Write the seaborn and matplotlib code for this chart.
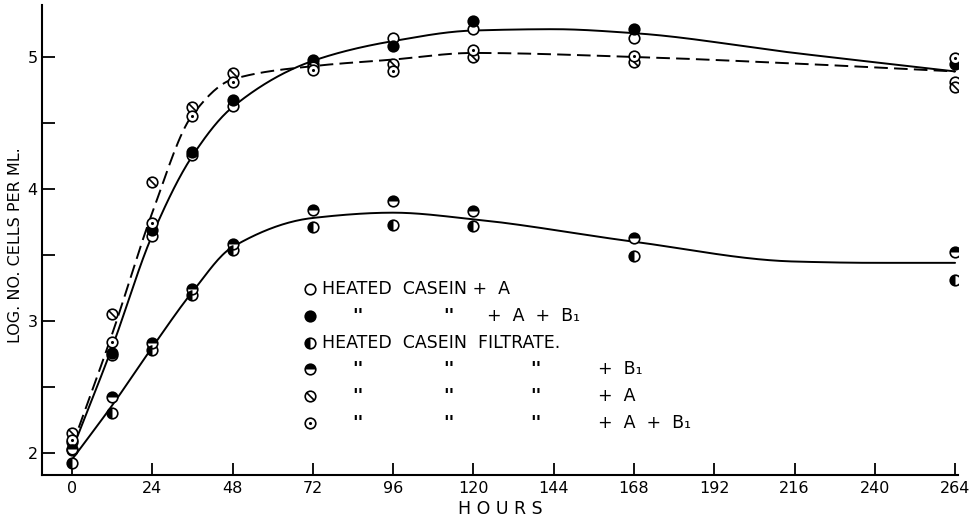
import numpy as np
import pandas as pd
import matplotlib
matplotlib.use("Agg")
import matplotlib.pyplot as plt
from matplotlib.path import Path
import seaborn as sns

# ---- measurements: log number of cells per ml against hours ----
hours = [0, 12, 24, 36, 48, 72, 96, 120, 168, 264]

casein_a = [2.08, 2.74, 3.64, 4.26, 4.63, 4.95, 5.14, 5.21, 5.14, 4.81]
casein_a_b1 = [2.02, 2.76, 3.69, 4.28, 4.67, 4.98, 5.08, 5.27, 5.21, 4.95]
filtrate = [1.92, 2.30, 2.78, 3.20, 3.54, 3.71, 3.73, 3.72, 3.49, 3.31]
filtrate_b1 = [2.03, 2.42, 2.83, 3.24, 3.58, 3.84, 3.91, 3.83, 3.63, 3.52]
filtrate_a = [2.15, 3.05, 4.05, 4.62, 4.88, 4.92, 4.95, 5.00, 4.96, 4.77]
filtrate_a_b1 = [2.10, 2.84, 3.74, 4.55, 4.81, 4.90, 4.89, 5.05, 5.01, 4.99]

# ---- fitted growth curves (knots of the hand-drawn curves) ----
casein_curve_h = [0, 12, 24, 36, 48, 72, 96, 120, 144, 168, 216, 264]
casein_curve_v = [2.02, 2.80, 3.65, 4.25, 4.62, 4.97, 5.12, 5.20, 5.21, 5.18, 5.03, 4.89]
filt_ab_curve_h = [0, 12, 24, 36, 48, 72, 96, 120, 168, 216, 264]
filt_ab_curve_v = [2.05, 2.90, 3.82, 4.56, 4.83, 4.93, 4.98, 5.03, 5.00, 4.95, 4.89]
filt_curve_h = [0, 12, 24, 36, 48, 72, 96, 120, 168, 216, 240, 264]
filt_curve_v = [1.95, 2.36, 2.80, 3.22, 3.56, 3.78, 3.82, 3.77, 3.60, 3.45, 3.44, 3.44]

x_ticks = [0, 24, 48, 72, 96, 120, 144, 168, 192, 216, 240, 264]
y_ticks = [2, 3, 4, 5]


def pchip(xk, yk, xs):
    """Monotone piecewise cubic Hermite curve through the knots."""
    xk = np.asarray(xk, float)
    yk = np.asarray(yk, float)
    h = np.diff(xk)
    d = np.diff(yk) / h
    m = np.zeros_like(yk)
    for i in range(1, len(xk) - 1):
        if d[i - 1] * d[i] > 0:
            w1 = 2 * h[i] + h[i - 1]
            w2 = h[i] + 2 * h[i - 1]
            m[i] = (w1 + w2) / (w1 / d[i - 1] + w2 / d[i])
    m[0] = d[0]
    m[-1] = d[-1]
    idx = np.clip(np.searchsorted(xk, xs) - 1, 0, len(h) - 1)
    t = (xs - xk[idx]) / h[idx]
    h00 = 2 * t**3 - 3 * t**2 + 1
    h10 = t**3 - 2 * t**2 + t
    h01 = -2 * t**3 + 3 * t**2
    h11 = t**3 - t**2
    return (h00 * yk[idx] + h10 * h[idx] * m[idx]
            + h01 * yk[idx + 1] + h11 * h[idx] * m[idx + 1])


sns.set_theme(style="ticks")
plt.rcParams["font.family"] = ["DejaVu Sans"]
plt.rcParams["text.color"] = "black"
plt.rcParams["axes.labelcolor"] = "black"
plt.rcParams["xtick.color"] = "black"
plt.rcParams["ytick.color"] = "black"

fig = plt.figure(figsize=(9.74, 5.16), dpi=100)
ax = fig.add_axes([0.043, 0.0795, 0.941, 0.911])

# curves
for kh, kv, style in [(casein_curve_h, casein_curve_v, "solid"),
                      (filt_ab_curve_h, filt_ab_curve_v, "dashed"),
                      (filt_curve_h, filt_curve_v, "solid")]:
    xs = np.linspace(kh[0], kh[-1], 400)
    df = pd.DataFrame({"h": xs, "v": pchip(kh, kv, xs)})
    kw = dict(dashes=(7, 3.2)) if style == "dashed" else {}
    sns.lineplot(data=df, x="h", y="v", ax=ax, color="black", lw=1.4,
                 sort=False, estimator=None, zorder=2, **kw)

# custom marker shapes
hatch_marker = Path.make_compound_path(
    Path.unit_circle(),
    Path([(-0.72, 0.72), (0.72, -0.72)], [Path.MOVETO, Path.LINETO]))
left_half = matplotlib.markers.MarkerStyle("o", fillstyle="left")
top_half = matplotlib.markers.MarkerStyle("o", fillstyle="top")

S = 58
EW = 1.2


def draw_marker(ax, x, y, kind, transform=None):
    kw = {}
    if transform is not None:
        kw["transform"] = transform
    base = dict(s=S, linewidth=EW, edgecolor="black", zorder=3, **kw)
    df = pd.DataFrame({"x": x, "y": y})
    if kind == "open":
        sns.scatterplot(data=df, x="x", y="y", ax=ax, marker="o",
                        color="white", legend=False, **base)
    elif kind == "filled":
        sns.scatterplot(data=df, x="x", y="y", ax=ax, marker="o",
                        color="black", legend=False, **base)
    elif kind in ("left", "top"):
        sns.scatterplot(data=df, x="x", y="y", ax=ax, marker="o",
                        color="white", legend=False, **base)
        ms = left_half if kind == "left" else top_half
        sns.scatterplot(data=df, x="x", y="y", ax=ax, marker=ms,
                        color="black", linewidth=0, s=S, zorder=4,
                        legend=False, **kw)
    elif kind == "hatch":
        sns.scatterplot(data=df, x="x", y="y", ax=ax, marker=hatch_marker,
                        color="white", legend=False, **base)
    elif kind == "dot":
        sns.scatterplot(data=df, x="x", y="y", ax=ax, marker="o",
                        color="white", legend=False, **base)
        sns.scatterplot(data=df, x="x", y="y", ax=ax, marker="o",
                        color="black", s=5, linewidth=0, zorder=4,
                        legend=False, **kw)


series = [(casein_a, "open"), (casein_a_b1, "filled"), (filtrate, "left"),
          (filtrate_b1, "top"), (filtrate_a, "hatch"), (filtrate_a_b1, "dot")]
for vals, kind in series:
    draw_marker(ax, hours, vals, kind)

# key
rows_y = [0.396, 0.338, 0.281, 0.2255, 0.168, 0.111]
key_x = 0.2926
fs = 12.5
for ry, (_, kind) in zip(rows_y, series):
    draw_marker(ax, [key_x], [ry], kind, transform=ax.transAxes)

tk = dict(transform=ax.transAxes, fontsize=fs, va="center", ha="left",
          color="black")
dk = dict(tk, fontweight="bold", fontsize=13)
ax.text(0.3057, rows_y[0], "HEATED  CASEIN +  A", **tk)
ax.text(0.3384, rows_y[1], "''", **dk)
ax.text(0.4378, rows_y[1], "''", **dk)
ax.text(0.486, rows_y[1], "+  A  +  B₁", **tk)
ax.text(0.3057, rows_y[2], "HEATED  CASEIN  FILTRATE.", **tk)
for ry, tail in zip(rows_y[3:], ["+  B₁", "+  A", "+  A  +  B₁"]):
    ax.text(0.3384, ry, "''", **dk)
    ax.text(0.4378, ry, "''", **dk)
    ax.text(0.533, ry, "''", **dk)
    ax.text(0.607, ry, tail, **tk)

# axes
ax.set_xlim(-9, 265)
ax.set_ylim(1.833, 5.394)
ax.set_xticks(x_ticks)
ax.set_xticklabels([str(t) for t in x_ticks])
ax.set_yticks(y_ticks)
ax.set_yticklabels([str(t) for t in y_ticks])
ax.set_yticks([2.5, 3.5, 4.5], minor=True)
ax.tick_params(axis="both", which="major", direction="in", length=9,
               width=1.3, labelsize=11.5, color="black", labelcolor="black",
               pad=4)
ax.tick_params(axis="y", which="minor", direction="in", length=9,
               width=1.3, color="black")
ax.tick_params(axis="y", which="major", pad=3)
sns.despine(ax=ax)
for sp in ("left", "bottom"):
    ax.spines[sp].set_linewidth(1.5)
    ax.spines[sp].set_color("black")

ax.set_xlabel("H O U R S", fontsize=12.5, labelpad=3)
ax.set_ylabel("LOG. NO. CELLS PER ML.", fontsize=11.5)
ax.yaxis.set_label_coords(-0.0205, 0.49)
ax.grid(False)

fig.savefig("out.png", dpi=100)
